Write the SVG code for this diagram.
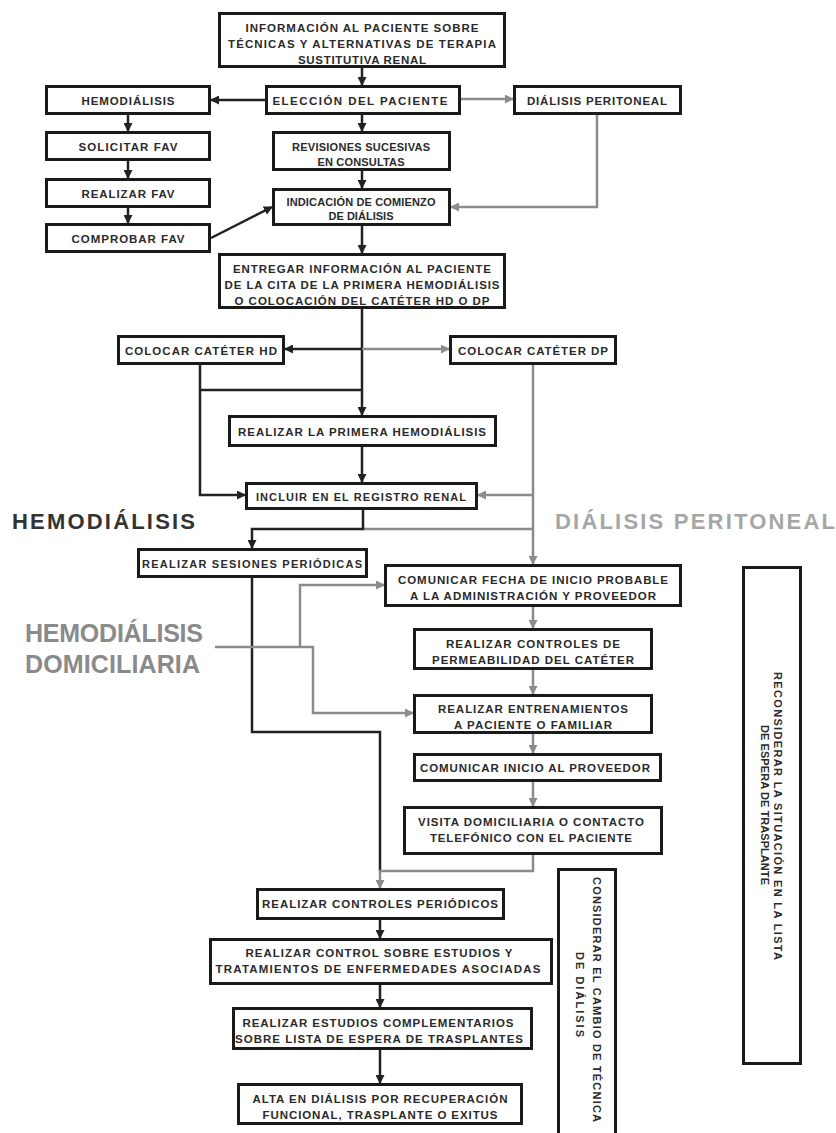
<svg xmlns="http://www.w3.org/2000/svg" width="836" height="1133" viewBox="0 0 836 1133">
<defs>
<marker id="ab" markerUnits="userSpaceOnUse" markerWidth="9" markerHeight="9" refX="8" refY="4.5" orient="auto"><path d="M0,0 L9,4.5 L0,9 z" fill="#222"/></marker>
<marker id="ag" markerUnits="userSpaceOnUse" markerWidth="9" markerHeight="9" refX="8" refY="4.5" orient="auto"><path d="M0,0 L9,4.5 L0,9 z" fill="#8c8c8c"/></marker>
<style>
.b{fill:#fff;stroke:#1a1a1a;stroke-width:3}
.t{font-family:"Liberation Sans",Arial,sans-serif;font-weight:bold;font-size:11.5px;fill:#2a2a2a;text-anchor:middle}
.s{font-size:11px}
.cb{fill:none;stroke:#222;stroke-width:2.5}
.cg{fill:none;stroke:#8c8c8c;stroke-width:2.5}
.big{font-family:"Liberation Sans",Arial,sans-serif;font-weight:bold}
.r{font-family:"Liberation Sans",Arial,sans-serif;font-weight:bold;font-size:11px;fill:#2a2a2a}
</style>
</defs>
<rect width="836" height="1133" fill="#fff"/>

<g id="connectors">
<path class="cb" d="M362,68 V85" marker-end="url(#ab)"/>
<path class="cb" d="M265,100 H211" marker-end="url(#ab)"/>
<path class="cg" d="M461,99 H513" marker-end="url(#ag)"/>
<path class="cb" d="M362,115 V131" marker-end="url(#ab)"/>
<path class="cb" d="M128,115 V131" marker-end="url(#ab)"/>
<path class="cb" d="M128,161 V178" marker-end="url(#ab)"/>
<path class="cb" d="M128,208 V223" marker-end="url(#ab)"/>
<path class="cb" d="M211,238 L272,207" marker-end="url(#ab)"/>
<path class="cb" d="M362,171 V188" marker-end="url(#ab)"/>
<path class="cg" d="M597,115 V207 H451" marker-end="url(#ag)"/>
<path class="cb" d="M362,226 V253" marker-end="url(#ab)"/>
<path class="cb" d="M362,309 V415" marker-end="url(#ab)"/>
<path class="cb" d="M362,349 H285" marker-end="url(#ab)"/>
<path class="cg" d="M362,349 H449" marker-end="url(#ag)"/>
<path class="cb" d="M200,365 V495 H245" marker-end="url(#ab)"/>
<path class="cb" d="M200,390 H362"/>
<path class="cb" d="M362,447 V482" marker-end="url(#ab)"/>
<path class="cg" d="M533,365 V564" marker-end="url(#ag)"/>
<path class="cg" d="M533,495 H478" marker-end="url(#ag)"/>
<path class="cg" d="M363,529 H533"/>
<path class="cb" d="M363,510 V529 H252 V548" marker-end="url(#ab)"/>
<path class="cb" d="M252,578 V732 H380 V871"/>
<path class="cg" d="M215,647 H313 V713 H413" marker-end="url(#ag)"/>
<path class="cg" d="M300,647 V585 H384" marker-end="url(#ag)"/>
<path class="cg" d="M533,607 V628" marker-end="url(#ag)"/>
<path class="cg" d="M533,670 V694" marker-end="url(#ag)"/>
<path class="cg" d="M533,734 V753" marker-end="url(#ag)"/>
<path class="cg" d="M533,782 V806" marker-end="url(#ag)"/>
<path class="cg" d="M533,855 V871 H380 V888" marker-end="url(#ag)"/>
<path class="cb" d="M380,920 V938" marker-end="url(#ab)"/>
<path class="cb" d="M380,985 V1007" marker-end="url(#ab)"/>
<path class="cb" d="M380,1050 V1083" marker-end="url(#ab)"/>
</g>

<g id="n-info"><rect class="b" x="219.5" y="13.5" width="285" height="53"/>
<text class="t" x="362" y="32" textLength="233">INFORMACIÓN AL PACIENTE SOBRE</text>
<text class="t" x="362" y="48" textLength="268">TÉCNICAS Y ALTERNATIVAS DE TERAPIA</text>
<text class="t" x="362" y="64" textLength="128">SUSTITUTIVA RENAL</text></g>

<g id="n-hemo"><rect class="b" x="46.5" y="86.5" width="163" height="27"/>
<text class="t" x="128" y="105" textLength="93">HEMODIÁLISIS</text></g>

<g id="n-eleccion"><rect class="b" x="266.5" y="86.5" width="193" height="27"/>
<text class="t" x="360" y="105" textLength="175">ELECCIÓN DEL PACIENTE</text></g>

<g id="n-dp"><rect class="b" x="514.5" y="86.5" width="166" height="27"/>
<text class="t" x="597" y="105" textLength="140">DIÁLISIS PERITONEAL</text></g>

<g id="n-solicitar"><rect class="b" x="46.5" y="132.5" width="163" height="27"/>
<text class="t" x="128" y="151" textLength="99">SOLICITAR FAV</text></g>

<g id="n-revisiones"><rect class="b" x="273.5" y="132.5" width="176" height="37"/>
<text class="t s" x="361" y="151" textLength="138">REVISIONES SUCESIVAS</text>
<text class="t s" x="361" y="166" textLength="87">EN CONSULTAS</text></g>

<g id="n-realizarfav"><rect class="b" x="46.5" y="179.5" width="163" height="27"/>
<text class="t" x="128" y="198" textLength="93">REALIZAR FAV</text></g>

<g id="n-indicacion"><rect class="b" x="273.5" y="189.5" width="176" height="35"/>
<text class="t s" x="361" y="206" textLength="149">INDICACIÓN DE COMIENZO</text>
<text class="t s" x="361" y="220" textLength="65">DE DIÁLISIS</text></g>

<g id="n-comprobar"><rect class="b" x="46.5" y="224.5" width="163" height="27"/>
<text class="t" x="128" y="243" textLength="113">COMPROBAR FAV</text></g>

<g id="n-entregar"><rect class="b" x="219.5" y="254.5" width="285" height="53"/>
<text class="t" x="362" y="273" textLength="258">ENTREGAR INFORMACIÓN AL PACIENTE</text>
<text class="t" x="362" y="289" textLength="275">DE LA CITA DE LA PRIMERA HEMODIÁLISIS</text>
<text class="t" x="362" y="305" textLength="255">O COLOCACIÓN DEL CATÉTER HD O DP</text></g>

<g id="n-colocarhd"><rect class="b" x="118.5" y="336.5" width="165" height="27"/>
<text class="t" x="201" y="355" textLength="152">COLOCAR CATÉTER HD</text></g>

<g id="n-colocardp"><rect class="b" x="450.5" y="336.5" width="165" height="27"/>
<text class="t" x="533" y="355" textLength="150">COLOCAR CATÉTER DP</text></g>

<g id="n-primera"><rect class="b" x="229.5" y="416.5" width="266" height="29"/>
<text class="t" x="362" y="436" textLength="248">REALIZAR LA PRIMERA HEMODIÁLISIS</text></g>

<g id="n-incluir"><rect class="b" x="246.5" y="483.5" width="230" height="25"/>
<text class="t s" x="361" y="501" textLength="210">INCLUIR EN EL REGISTRO RENAL</text></g>

<g id="n-sesiones"><rect class="b" x="138.5" y="549.5" width="228" height="27"/>
<text class="t s" x="252" y="568" textLength="220">REALIZAR SESIONES PERIÓDICAS</text></g>

<g id="n-fecha"><rect class="b" x="385.5" y="565.5" width="295" height="40"/>
<text class="t" x="533" y="584" textLength="270">COMUNICAR FECHA DE INICIO PROBABLE</text>
<text class="t" x="533" y="600" textLength="246">A LA ADMINISTRACIÓN Y PROVEEDOR</text></g>

<g id="n-permeabilidad"><rect class="b" x="414.5" y="629.5" width="237" height="39"/>
<text class="t" x="533" y="648" textLength="174">REALIZAR CONTROLES DE</text>
<text class="t" x="533" y="664" textLength="202">PERMEABILIDAD DEL CATÉTER</text></g>

<g id="n-entrenamientos"><rect class="b" x="414.5" y="695.5" width="237" height="37"/>
<text class="t" x="533" y="713" textLength="190">REALIZAR ENTRENAMIENTOS</text>
<text class="t" x="533" y="729" textLength="158">A PACIENTE O FAMILIAR</text></g>

<g id="n-cominicio"><rect class="b" x="414.5" y="754.5" width="246" height="26"/>
<text class="t" x="535" y="772" textLength="230">COMUNICAR INICIO AL PROVEEDOR</text></g>

<g id="n-visita"><rect class="b" x="404.5" y="807.5" width="257" height="46"/>
<text class="t" x="531" y="826" textLength="226">VISITA DOMICILIARIA O CONTACTO</text>
<text class="t" x="531" y="842" textLength="202">TELEFÓNICO CON EL PACIENTE</text></g>

<g id="n-controlesper"><rect class="b" x="257.5" y="889.5" width="246" height="29"/>
<text class="t" x="380" y="908" textLength="236">REALIZAR CONTROLES PERIÓDICOS</text></g>

<g id="n-controlsobre"><rect class="b" x="210.5" y="939.5" width="341" height="44"/>
<text class="t" x="379" y="957" textLength="267">REALIZAR CONTROL SOBRE ESTUDIOS Y</text>
<text class="t" x="378" y="973" textLength="325">TRATAMIENTOS DE ENFERMEDADES ASOCIADAS</text></g>

<g id="n-estudios"><rect class="b" x="233.5" y="1008.5" width="298" height="40"/>
<text class="t" x="378" y="1027" textLength="271">REALIZAR ESTUDIOS COMPLEMENTARIOS</text>
<text class="t" x="379" y="1043" textLength="288">SOBRE LISTA DE ESPERA DE TRASPLANTES</text></g>

<g id="n-alta"><rect class="b" x="238.5" y="1084.5" width="283" height="39"/>
<text class="t" x="380" y="1103" textLength="255">ALTA EN DIÁLISIS POR RECUPERACIÓN</text>
<text class="t" x="380" y="1119" textLength="235">FUNCIONAL, TRASPLANTE O EXITUS</text></g>

<g id="n-considerar"><rect class="b" x="558.5" y="869.5" width="57" height="270"/>
<text class="r" transform="translate(593,877) rotate(90)" textLength="245">CONSIDERAR EL CAMBIO DE TÉCNICA</text>
<text class="r" transform="translate(576,952) rotate(90)" textLength="85">DE DIÁLISIS</text></g>

<g id="n-reconsiderar"><rect class="b" x="743.5" y="567.5" width="57" height="496"/>
<text class="r" transform="translate(774,672) rotate(90)" textLength="288">RECONSIDERAR LA SITUACIÓN EN LA LISTA</text>
<text class="r" transform="translate(761,725) rotate(90)" textLength="160">DE ESPERA DE TRASPLANTE</text></g>

<g id="labels">
<text class="big" x="12" y="529" font-size="22" fill="#333" textLength="183">HEMODIÁLISIS</text>
<text class="big" x="555" y="529" font-size="22" fill="#a6a6a6" textLength="280">DIÁLISIS PERITONEAL</text>
<text class="big" x="25" y="642" font-size="25" fill="#8a8a8a" textLength="178">HEMODIÁLISIS</text>
<text class="big" x="25" y="673" font-size="25" fill="#8a8a8a" textLength="175">DOMICILIARIA</text>
</g>
</svg>
